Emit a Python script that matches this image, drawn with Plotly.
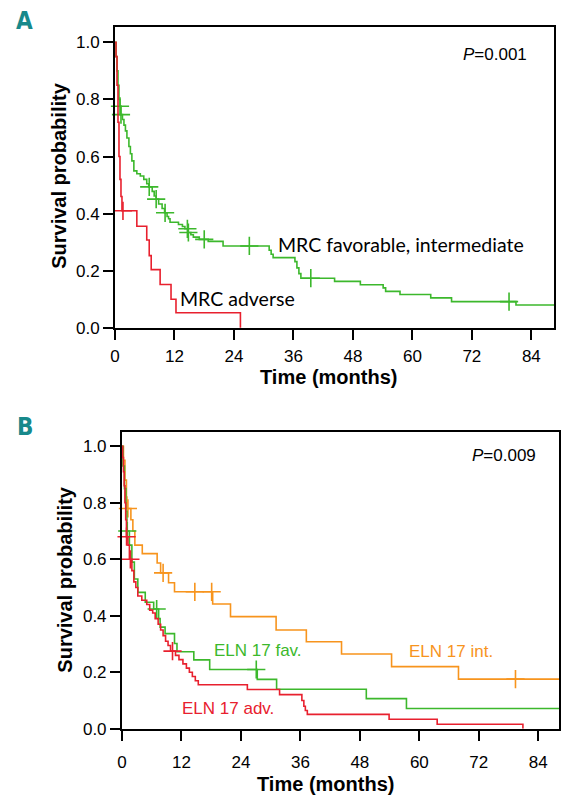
import numpy as np
import plotly.graph_objects as go

# ---------------- DATA ----------------
# Panel A: MRC cytogenetic risk
mrc_fav_time = [0, 0.2, 0.4, 0.6, 0.8, 1.0, 1.15, 1.5, 1.8, 2.1, 2.4, 2.8, 3.1, 3.4, 3.8, 4.4, 5.1, 5.8,
                6.4, 6.8, 7.5, 7.9, 8.3, 8.8, 9.5, 10.0, 10.5, 10.8, 11.1, 12.8, 13.6, 14.1, 14.7, 15.3,
                15.8, 17.0, 18.8, 21.8, 31.1, 31.5, 31.9, 36.3, 36.7, 37.1, 37.5, 44.3, 49.5, 54.1, 54.6,
                57.5, 63.7, 67.9, 80.9, 90]
mrc_fav_surv = [1.0, 0.95, 0.9, 0.85, 0.8, 0.776, 0.747, 0.73, 0.71, 0.69, 0.665, 0.635, 0.61, 0.585, 0.55,
                0.54, 0.532, 0.52, 0.505, 0.494, 0.478, 0.462, 0.451, 0.434, 0.418, 0.403, 0.39, 0.382, 0.37,
                0.362, 0.355, 0.347, 0.334, 0.326, 0.318, 0.31, 0.303, 0.287, 0.272, 0.258, 0.246, 0.232,
                0.21, 0.19, 0.174, 0.163, 0.151, 0.14, 0.128, 0.117, 0.105, 0.092, 0.080, 0.080]
mrc_fav_censor = [1.0, 1.2, 6.9, 8.3, 10.1, 14.6, 14.8, 18.0, 27.1, 39.5, 79.5]

mrc_adv_time = [0, 0.2, 0.4, 0.6, 0.8, 1.0, 1.2, 1.4, 4.4, 6.4, 6.9, 7.3, 9.1, 11.3, 12.3, 25.3]
mrc_adv_surv = [1.0, 0.95, 0.85, 0.72, 0.6, 0.52, 0.46, 0.41, 0.356, 0.308, 0.253, 0.204, 0.152, 0.10,
                0.053, 0.0]
mrc_adv_censor = [1.6]

# Panel B: ELN 2017 risk
eln_int_time = [0, 0.3, 0.6, 0.9, 1.0, 1.8, 2.2, 2.6, 4.1, 7.1, 7.8, 9.4, 10.6, 18.3, 21.9, 31.1, 37.2,
                44.3, 54.4, 67.9, 90]
eln_int_surv = [1.0, 0.95, 0.88, 0.82, 0.78, 0.74, 0.70, 0.65, 0.62, 0.587, 0.552, 0.517, 0.485, 0.442,
                0.397, 0.35, 0.308, 0.265, 0.22, 0.176, 0.176]
eln_int_censor = [1.2, 8.3, 14.7, 18.1, 79.4]

eln_fav_time = [0, 0.2, 0.5, 0.8, 1.0, 1.5, 2.0, 2.5, 3.2, 4.7, 6.4, 7.4, 7.7, 8.7, 10.6, 11.1, 14.5,
                17.7, 27.3, 31.2, 49.3, 57.4, 90]
eln_fav_surv = [1.0, 0.93, 0.85, 0.77, 0.70, 0.65, 0.59, 0.53, 0.483, 0.448, 0.424, 0.39, 0.36, 0.337,
                0.302, 0.273, 0.244, 0.21, 0.175, 0.14, 0.107, 0.072, 0.072]
eln_fav_censor = [1.07, 7.0, 27.1]

eln_adv_time = [0, 0.15, 0.3, 0.45, 0.6, 0.75, 0.9, 1.2, 1.5, 2.0, 2.4, 2.8, 3.2, 4.0, 5.0, 5.6, 6.2,
                6.7, 7.3, 7.8, 8.3, 8.8, 9.3, 9.8, 10.8, 11.5, 12.3, 13.0, 13.6, 14.2, 14.8, 15.4, 25.3,
                31.8, 36.3, 36.7, 37.0, 37.4, 53.9, 63.6, 80.9]
eln_adv_surv = [1.0, 0.96, 0.91, 0.86, 0.80, 0.74, 0.68, 0.65, 0.60, 0.56, 0.52, 0.50, 0.47, 0.455, 0.44,
                0.42, 0.41, 0.39, 0.37, 0.35, 0.33, 0.31, 0.295, 0.275, 0.26, 0.245, 0.23, 0.215, 0.20,
                0.185, 0.17, 0.156, 0.139, 0.121, 0.10, 0.08, 0.065, 0.051, 0.034, 0.016, 0.0]
eln_adv_censor = [0.93, 1.7, 10.2]

month_ticks = [0, 12, 24, 36, 48, 60, 72, 84]
prob_ticks = [0.0, 0.2, 0.4, 0.6, 0.8, 1.0]
prob_labels = ["0.0", "0.2", "0.4", "0.6", "0.8", "1.0"]

# ---------------- STYLE ----------------
RED = "#e8202e"
GREEN = "#3cb82c"
ORANGE = "#f7941d"
TEAL = "#17898b"
W, H = 570, 805


def step_value(times, surv, t):
    idx = np.searchsorted(np.asarray(times), t, side="right") - 1
    return float(np.asarray(surv)[idx])


def px(x):
    return x / W


def py(y):
    return 1 - y / H


fig = go.Figure()


def add_curve(times, surv, censor, color, xa, ya):
    fig.add_trace(go.Scatter(x=times, y=surv, mode="lines", line=dict(color=color, width=1.6, shape="hv"),
                             xaxis=xa, yaxis=ya, hoverinfo="skip"))
    cy = [step_value(times, surv, t) for t in censor]
    fig.add_trace(go.Scatter(x=censor, y=cy, mode="markers",
                             marker=dict(symbol="cross-thin", size=13, color=color,
                                         line=dict(color=color, width=1.6)),
                             xaxis=xa, yaxis=ya, hoverinfo="skip", cliponaxis=False))


add_curve(mrc_fav_time, mrc_fav_surv, mrc_fav_censor, GREEN, "x", "y")
add_curve(mrc_adv_time, mrc_adv_surv, mrc_adv_censor, RED, "x", "y")
add_curve(eln_int_time, eln_int_surv, eln_int_censor, ORANGE, "x2", "y2")
add_curve(eln_fav_time, eln_fav_surv, eln_fav_censor, GREEN, "x2", "y2")
add_curve(eln_adv_time, eln_adv_surv, eln_adv_censor, RED, "x2", "y2")

tickfont = dict(family="Liberation Sans, Arial, sans-serif", size=17, color="black")
axis_common = dict(showgrid=False, zeroline=False, showline=True, linecolor="black", linewidth=2,
                   mirror=True, ticks="outside", ticklen=10, tickwidth=2, tickcolor="black",
                   tickfont=tickfont, fixedrange=True)

fig.update_layout(
    width=W, height=H, margin=dict(l=0, r=0, t=0, b=0),
    paper_bgcolor="white", plot_bgcolor="white", showlegend=False,
    font=dict(family="Liberation Sans, Arial, sans-serif", color="black"),
    xaxis=dict(domain=[px(111), px(554)], range=[0, 88.6], tickvals=month_ticks, anchor="y",
               ticklabelstandoff=2, **axis_common),
    yaxis=dict(domain=[py(332), py(27)], range=[0, 1.055], tickvals=prob_ticks, ticktext=prob_labels,
               anchor="x", **axis_common),
    xaxis2=dict(domain=[px(118), px(559)], range=[0, 88.2], tickvals=month_ticks, anchor="y2",
                ticklabelstandoff=7, **axis_common),
    yaxis2=dict(domain=[py(738), py(437)], range=[0, 1.052], tickvals=prob_ticks, ticktext=prob_labels,
                anchor="x2", **axis_common),
)

title_font = dict(family="Liberation Sans, Arial, sans-serif", size=20, color="black")
label_font_a = dict(family="Lato, Open Sans, sans-serif", size=19.5, color="black")
label_font_b = dict(family="Liberation Sans, Arial, sans-serif", size=17, color="black")
letter_font = dict(family="Liberation Sans Narrow, DejaVu Sans Condensed, sans-serif", size=24, color=TEAL)

annotations = [
    dict(text="<b>A</b>", x=px(20), y=py(21), font=letter_font),
    dict(text="<b>B</b>", x=px(20), y=py(432), font=letter_font),
    dict(text="<b>Survival probability</b>", x=px(54.5), y=py(178), textangle=-90, font=title_font),
    dict(text="<b>Survival probability</b>", x=px(60.5), y=py(587), textangle=-90, font=title_font),
    dict(text="<b>Time (months)</b>", x=px(326), y=py(382), font=title_font),
    dict(text="<b>Time (months)</b>", x=px(323), y=py(794), font=title_font),
    dict(text="<i>P</i>=0.001", x=px(494), y=py(55), font=label_font_b),
    dict(text="<i>P</i>=0.009", x=px(503), y=py(461), font=label_font_b),
    dict(text="MRC favorable, intermediate", x=px(399), y=py(248), font=label_font_a),
    dict(text="MRC adverse", x=px(235), y=py(302), font=label_font_a),
    dict(text="ELN 17 int.", x=px(450), y=py(660), font=dict(label_font_b, color=ORANGE)),
    dict(text="ELN 17 fav.", x=px(255), y=py(659), font=dict(label_font_b, color=GREEN)),
    dict(text="ELN 17 adv.", x=px(225), y=py(717), font=dict(label_font_b, color=RED)),
]
for a in annotations:
    a.update(xref="paper", yref="paper", showarrow=False, xanchor="center", yanchor="middle")
fig.update_layout(annotations=annotations)

fig.write_html("out.html", config={"displayModeBar": False},
               post_script="document.body.style.margin='0';document.body.style.overflow='hidden';")
